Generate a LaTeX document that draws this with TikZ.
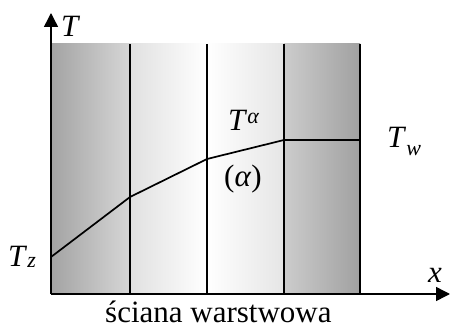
\documentclass[tikz,border=0pt]{standalone}
\usepackage{fontspec}
\setmainfont{Liberation Serif}
\usetikzlibrary{arrows.meta}
\newcommand{\mybigfont}{\fontsize{31}{34}\selectfont}
\newcommand{\mysmlfont}{\fontsize{22}{24}\selectfont}
\tikzset{
  axis/.style={line width=1.5pt,-{Triangle[length=14pt,width=14pt]}},
  wall/.style={line width=1.4pt},
  temp/.style={line width=1.7pt},
  lbl/.style={inner sep=0pt,anchor=base west,font=\mybigfont},
}
\begin{document}
\begin{tikzpicture}[x=1pt,y=-1pt]
\useasboundingbox (0,0) rectangle (450,329);
% shading
\shade[left color=black!36,right color=black!16] (51,44) rectangle (130,294);
\shade[left color=black!12,right color=white] (130,44) rectangle (207,294);
\shade[left color=white,right color=black!10] (207,44) rectangle (284,294);
\shade[left color=black!20,right color=black!37] (284,44) rectangle (360,294);
% coordinates
\coordinate (O) at (51,294);
\coordinate (ytop) at (51,13);
\coordinate (xend) at (450,294);
\coordinate (w1t) at (130,44); \coordinate (w1b) at (130,294);
\coordinate (w2t) at (207,44); \coordinate (w2b) at (207,294);
\coordinate (w3t) at (284,44); \coordinate (w3b) at (284,294);
\coordinate (w4t) at (360,44); \coordinate (w4b) at (360,294);
\coordinate (p0) at (51,257);
\coordinate (p1) at (130,197);
\coordinate (p2) at (207,159);
\coordinate (p3) at (284,140);
\coordinate (p4) at (360,140);
% walls
\draw[wall] (w1t) -- (w1b);
\draw[wall] (w2t) -- (w2b);
\draw[wall] (w3t) -- (w3b);
\draw[wall] (w4t) -- (w4b);
% temperature profile
\draw[temp,line join=round] (p0) -- (p1) -- (p2) -- (p3) -- (p4);
% axes
\draw[axis] (O) -- (ytop);
\draw[axis] (O) -- (xend);
% labels
\node[lbl] (lT) at (61,37) {\textit{T}};
\node[lbl] (lx) at (428,282) {\textit{x}};
\node[lbl] (lTz) at (8,266) {\textit{T}\raisebox{-1pt}{\mysmlfont\textit{z}}};
\node[lbl] (lTw) at (387,147) {\textit{T}\raisebox{-8pt}{\mysmlfont\textit{w}}};
\node[lbl] (lTa) at (228,130) {\textit{T}\raisebox{7pt}{\mysmlfont\textit{α}}};
\node[lbl] (la) at (224,186) {(\textit{α})};
\node[lbl,text depth=0pt] (lwall) at (105,322) {ściana warstwowa};
\end{tikzpicture}
\end{document}
